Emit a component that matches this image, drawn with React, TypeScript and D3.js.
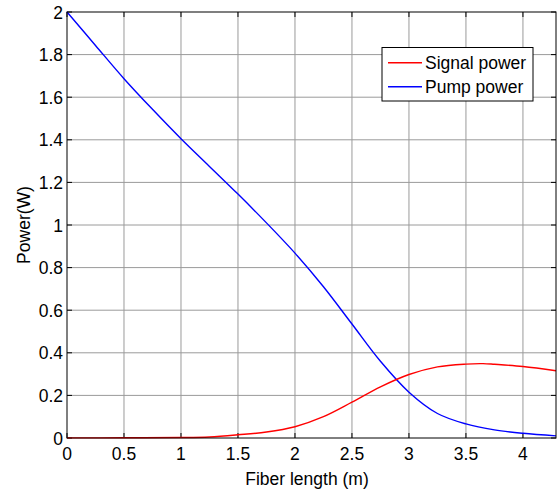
import React from "react";
import * as d3 from "d3";

const xTicks = [0, 0.5, 1, 1.5, 2, 2.5, 3, 3.5, 4];
const xTickLabels = ["0", "0.5", "1", "1.5", "2", "2.5", "3", "3.5", "4"];
const yTicks = [0, 0.2, 0.4, 0.6, 0.8, 1, 1.2, 1.4, 1.6, 1.8, 2];
const yTickLabels = ["0", "0.2", "0.4", "0.6", "0.8", "1", "1.2", "1.4", "1.6", "1.8", "2"];

const pumpX = [0, 0.25, 0.5, 0.75, 1, 1.25, 1.5, 1.75, 2, 2.25, 2.5, 2.75, 3, 3.25, 3.5, 3.75, 4, 4.29];
const pumpY = [2, 1.843, 1.687, 1.543, 1.405, 1.275, 1.145, 1.01, 0.868, 0.71, 0.535, 0.36, 0.215, 0.115, 0.066, 0.038, 0.022, 0.01];

const signalX = [0, 0.5, 1, 1.25, 1.5, 1.75, 2, 2.25, 2.5, 2.75, 3, 3.25, 3.5, 3.65, 3.75, 4, 4.29];
const signalY = [0.0005, 0.001, 0.002, 0.005, 0.015, 0.028, 0.053, 0.1, 0.168, 0.24, 0.298, 0.334, 0.347, 0.349, 0.346, 0.336, 0.316];

const seriesNames = ["Signal power", "Pump power"];
const seriesColors = ["#ff0000", "#0000ff"];

export default function App() {
  const W = 558, H = 495;
  const left = 67, right = 556, top = 12, bottom = 438;
  const x = d3.scaleLinear().domain([0, 4.29]).range([left, right]);
  const y = d3.scaleLinear().domain([0, 2]).range([bottom, top]);
  const line = d3.line<[number, number]>()
    .x((d) => x(d[0]))
    .y((d) => y(d[1]))
    .curve(d3.curveCatmullRom.alpha(0.5));
  const pump = line(pumpX.map((v, i) => [v, pumpY[i]] as [number, number])) || "";
  const signal = line(signalX.map((v, i) => [v, signalY[i]] as [number, number])) || "";
  const font = "'Liberation Sans', Arial, sans-serif";
  const fs = 17.5;
  const tl = 5;
  return (
    <svg width={W} height={H} style={{ position: "absolute", left: 0, top: 0, background: "#fff" }}>
      <rect x={0} y={0} width={W} height={H} fill="#fff" />
      {xTicks.slice(1).map((t) => (
        <line key={"gx" + t} x1={x(t)} x2={x(t)} y1={top} y2={bottom} stroke="#9a9a9a" strokeWidth={1} />
      ))}
      {yTicks.slice(1, -1).map((t) => (
        <line key={"gy" + t} x1={left} x2={right} y1={y(t)} y2={y(t)} stroke="#9a9a9a" strokeWidth={1} />
      ))}
      {xTicks.map((t) => (
        <g key={"tx" + t}>
          <line x1={x(t)} x2={x(t)} y1={bottom} y2={bottom - tl} stroke="#000" />
          <line x1={x(t)} x2={x(t)} y1={top} y2={top + tl} stroke="#000" />
        </g>
      ))}
      {yTicks.map((t) => (
        <g key={"ty" + t}>
          <line x1={left} x2={left + tl} y1={y(t)} y2={y(t)} stroke="#000" />
          <line x1={right} x2={right - tl} y1={y(t)} y2={y(t)} stroke="#000" />
        </g>
      ))}
      <path d={pump} fill="none" stroke={seriesColors[1]} strokeWidth={1.4} />
      <path d={signal} fill="none" stroke={seriesColors[0]} strokeWidth={1.4} />
      <rect x={left} y={top} width={right - left} height={bottom - top} fill="none" stroke="#000" strokeWidth={1} />
      {xTicks.map((t, i) => (
        <text key={"lx" + t} x={x(t)} y={460} textAnchor="middle" fontFamily={font} fontSize={fs} fill="#000">
          {xTickLabels[i]}
        </text>
      ))}
      {yTicks.map((t, i) => (
        <text key={"ly" + t} x={63} y={y(t) + 6.5} textAnchor="end" fontFamily={font} fontSize={fs} fill="#000">
          {yTickLabels[i]}
        </text>
      ))}
      <text x={307} y={485} textAnchor="middle" fontFamily={font} fontSize={fs} fill="#000">
        Fiber length (m)
      </text>
      <text transform={`translate(29.5,${(top + bottom) / 2}) rotate(-90)`} textAnchor="middle" fontFamily={font} fontSize={fs} fill="#000">
        Power(W)
      </text>
      <rect x={382} y={47.5} width={151} height={53.5} fill="#fff" stroke="#000" strokeWidth={1} />
      {seriesNames.map((n, i) => (
        <g key={n}>
          <line x1={388} x2={422} y1={62.7 + i * 24} y2={62.7 + i * 24} stroke={seriesColors[i]} strokeWidth={1.4} />
          <text x={425} y={69 + i * 24} fontFamily={font} fontSize={fs} fill="#000">
            {n}
          </text>
        </g>
      ))}
    </svg>
  );
}
